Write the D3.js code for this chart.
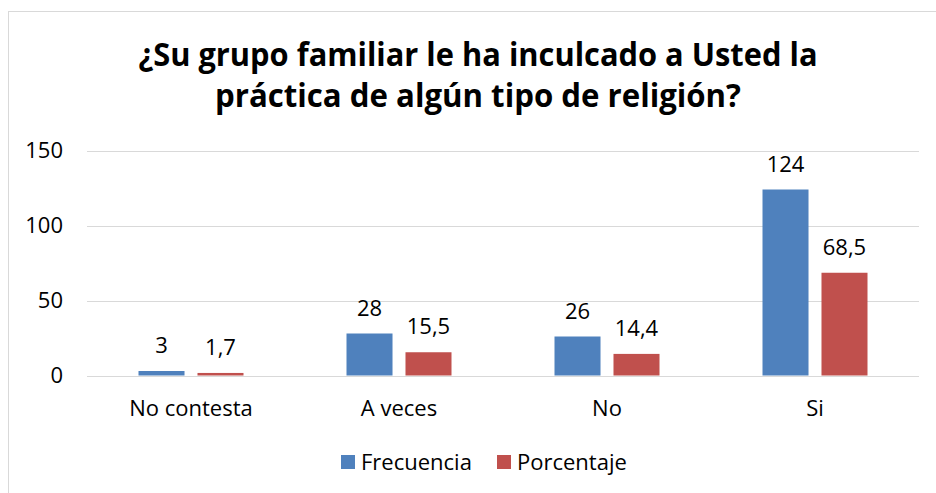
<!DOCTYPE html>
<html>
<head>
<meta charset="utf-8">
<script src="https://d3js.org/d3.v7.min.js"></script>
<style>
  body { margin: 0; background: #fff; }
  text { font-family: "Open Sans", sans-serif; fill: #000; }
</style>
</head>
<body>
<div class="chart"></div>
<script>
var categories = ["No contesta", "A veces", "No", "Si"];
var seriesNames = ["Frecuencia", "Porcentaje"];
var frecuencia = [3, 28, 26, 124];
var porcentaje = [1.7, 15.5, 14.4, 68.5];
var yTicks = [0, 50, 100, 150];
var titleLines = ["¿Su grupo familiar le ha inculcado a Usted la", "práctica de algún tipo de religión?"];
var colors = ["#4f81bd", "#c0504d"];

var width = 936, height = 493;

var svg = d3.select(".chart")
	.append("svg")
	.attr("width", width)
	.attr("height", height);

// chart border (runs off the right and bottom edges)
svg.append("rect")
	.attr("x", 8.5)
	.attr("y", 11.5)
	.attr("width", 960)
	.attr("height", 520)
	.style("fill", "none")
	.style("stroke", "#d9d9d9");

// title
var titleWidths = [679, 526];
titleLines.forEach(function(t, i) {
	svg.append("text")
		.attr("x", 478)
		.attr("y", 66 + i * 41)
		.attr("text-anchor", "middle")
		.attr("font-weight", "bold")
		.attr("font-size", 33)
		.attr("textLength", titleWidths[i])
		.attr("lengthAdjust", "spacingAndGlyphs")
		.text(t);
});

var x0 = d3.scaleBand()
	.domain(categories)
	.range([87, 919]);

var x1 = d3.scaleBand()
	.domain(seriesNames)
	.range([(x0.bandwidth() - 105) / 2, (x0.bandwidth() + 105) / 2])
	.paddingInner(0.22);

var y = d3.scaleLinear()
	.domain([0, 150])
	.range([375.5, 150.5]);

// gridlines
svg.selectAll(".grid")
	.data(yTicks)
	.enter().append("line")
	.attr("class", "grid")
	.attr("x1", 87)
	.attr("x2", 919)
	.attr("y1", function(d) { return Math.round(y(d)) + 0.5; })
	.attr("y2", function(d) { return Math.round(y(d)) + 0.5; })
	.style("stroke", "#d9d9d9")
	.style("stroke-width", 1);

// y tick labels
svg.selectAll(".ytick")
	.data(yTicks)
	.enter().append("text")
	.attr("class", "ytick")
	.attr("x", 63)
	.attr("y", function(d) { return y(d); })
	.attr("dy", ".35em")
	.attr("text-anchor", "end")
	.attr("font-size", 22)
	.text(function(d) { return d; });

// category labels
svg.selectAll(".xlabel")
	.data(categories)
	.enter().append("text")
	.attr("class", "xlabel")
	.attr("x", function(d) { return x0(d) + x0.bandwidth() / 2; })
	.attr("y", 416)
	.attr("text-anchor", "middle")
	.attr("font-size", 22)
	.text(function(d) { return d; });

var seriesData = [frecuencia, porcentaje];

seriesNames.forEach(function(s, si) {
	var g = svg.append("g");
	var vals = seriesData[si];

	g.selectAll("rect")
		.data(categories)
		.enter().append("rect")
		.attr("x", function(d) { return x0(d) + x1(s); })
		.attr("y", function(d, i) { return y(vals[i]); })
		.attr("width", x1.bandwidth())
		.attr("height", function(d, i) { return y(0) - y(vals[i]); })
		.style("fill", colors[si]);

	g.selectAll("text")
		.data(categories)
		.enter().append("text")
		.attr("x", function(d) { return x0(d) + x1(s) + x1.bandwidth() / 2; })
		.attr("y", function(d, i) { return y(vals[i]) - 18; })
		.attr("text-anchor", "middle")
		.attr("font-size", 22)
		.text(function(d, i) { return String(vals[i]).replace(".", ","); });
});

// legend
var legendX = [341, 497];
var legend = svg.selectAll(".legend")
	.data(seriesNames)
	.enter().append("g")
	.attr("class", "legend")
	.attr("transform", function(d, i) { return "translate(" + legendX[i] + ",0)"; });

legend.append("rect")
	.attr("x", 0)
	.attr("y", 455)
	.attr("width", 14)
	.attr("height", 14)
	.style("fill", function(d, i) { return colors[i]; });

legend.append("text")
	.attr("x", 20)
	.attr("y", 470)
	.attr("font-size", 22)
	.text(function(d) { return d; });
</script>
</body>
</html>
